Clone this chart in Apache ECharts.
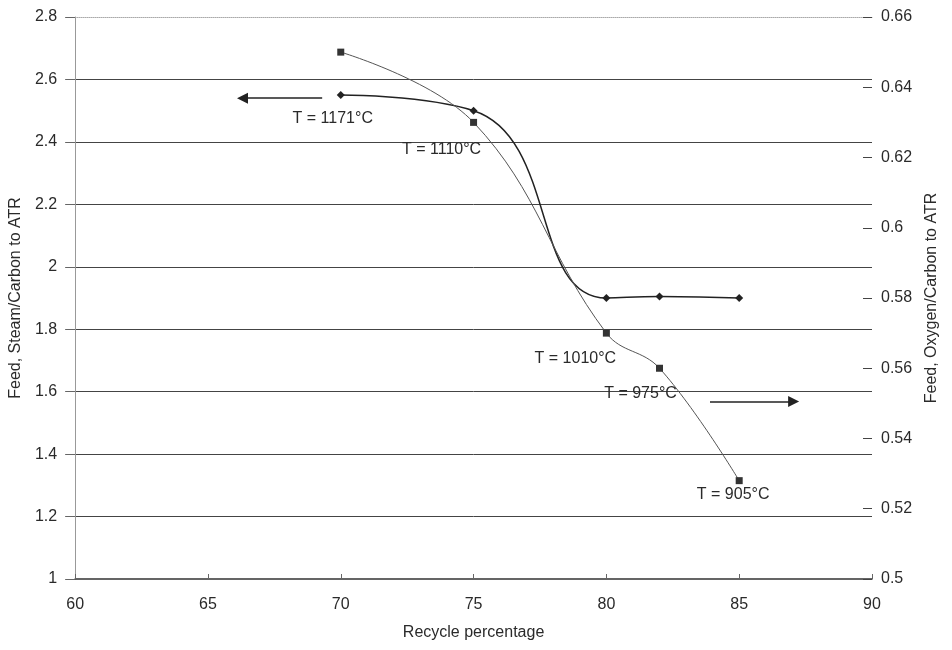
<!DOCTYPE html>
<html>
<head>
<meta charset="utf-8">
<script src="https://cdn.jsdelivr.net/npm/echarts@6/dist/echarts.min.js"></script>
<style>
  html, body { margin: 0; background: #fff; }
  #chart { width: 952px; height: 650px; }
</style>
</head>
<body>
<div id="chart"></div>
<script>
// --- data ---
const recycle = [70, 75, 80, 82, 85];
const steamCarbon = [2.55, 2.50, 1.90, 1.905, 1.90];       // left axis, diamonds
const oxygenCarbon = [0.65, 0.63, 0.57, 0.56, 0.528];      // right axis, squares
const tempLabels = ['T = 1171°C', 'T = 1110°C', 'T = 1010°C', 'T = 975°C', 'T = 905°C'];

// arrows telling which axis each curve belongs to (data units)
const leftArrow = { from: [69.3, 2.54], to: [66.3, 2.54] };
const rightArrow = { from: [83.9, 0.5505], to: [87.05, 0.5505] };

// label offsets from the square markers, in pixels
const labelOffsets = [[-8, 66], [-32, 27], [-31, 25], [-19, 25], [-6, 14]];

const font = 'Liberation Sans, Arial, sans-serif';
const textColor = '#2a2a2a';

const chart = echarts.init(document.getElementById('chart'));

const squareData = recycle.map((x, i) => ({
  value: [x, oxygenCarbon[i]],
  label: {
    show: true,
    formatter: tempLabels[i],
    position: 'inside',
    offset: labelOffsets[i],
    align: 'center',
    verticalAlign: 'middle',
    fontFamily: font,
    fontSize: 16,
    color: textColor
  }
}));

const arrowLine = (arrow) => ({
  silent: true,
  symbol: ['none', 'triangle'],
  symbolSize: 11,
  label: { show: false },
  itemStyle: { color: '#222' },
  lineStyle: { color: '#222', width: 1.5, type: 'solid' },
  data: [[{ coord: arrow.from }, { coord: arrow.to }]]
});

chart.setOption({
  animation: false,
  backgroundColor: '#fff',
  textStyle: { fontFamily: font },
  grid: { left: 73, right: 80, top: 17, bottom: 71 },
  xAxis: [
    {
      type: 'value',
      min: 60, max: 90, interval: 5,
      name: 'Recycle percentage',
      nameLocation: 'middle',
      nameGap: 46,
      nameTextStyle: { fontSize: 16, color: textColor, fontFamily: font },
      axisLine: { lineStyle: { color: '#333', width: 1.5 } },
      axisTick: { inside: true, length: 5, lineStyle: { color: '#666' } },
      axisLabel: { margin: 18, fontSize: 16, color: textColor, fontFamily: font },
      splitLine: { show: false }
    },
    {
      // dotted frame line along the top
      type: 'value', position: 'top',
      min: 60, max: 90,
      axisLine: { show: true, lineStyle: { color: '#aaa', type: 'dotted', width: 1 } },
      axisTick: { show: false },
      axisLabel: { show: false },
      splitLine: { show: false }
    }
  ],
  yAxis: [
    {
      type: 'value',
      min: 1, max: 2.8, interval: 0.2,
      name: 'Feed, Steam/Carbon to ATR',
      nameLocation: 'middle',
      nameRotate: 90,
      nameGap: 48,
      nameTextStyle: { fontSize: 16, color: textColor, fontFamily: font },
      axisLine: { show: true, lineStyle: { color: '#999', width: 1 } },
      axisTick: { show: true, length: 10, lineStyle: { color: '#666' } },
      axisLabel: { margin: 18, fontSize: 16, color: textColor, fontFamily: font },
      splitLine: {
        show: true, showMinLine: false, showMaxLine: false,
        lineStyle: { color: '#444', width: 1 }
      }
    },
    {
      type: 'value',
      position: 'right',
      min: 0.5, max: 0.66, interval: 0.02,
      name: 'Feed, Oxygen/Carbon to ATR',
      nameLocation: 'middle',
      nameRotate: 90,
      nameGap: 52,
      nameTextStyle: { fontSize: 16, color: textColor, fontFamily: font },
      axisLine: { show: false },
      axisTick: { show: true, inside: true, length: 9, lineStyle: { color: '#444' } },
      axisLabel: { margin: 9, fontSize: 16, color: textColor, fontFamily: font },
      splitLine: { show: false }
    }
  ],
  series: [
    {
      name: 'Steam/Carbon',
      type: 'line',
      yAxisIndex: 0,
      smooth: 0.5,
      symbol: 'diamond',
      symbolSize: 8,
      itemStyle: { color: '#222' },
      lineStyle: { color: '#222', width: 1.5 },
      data: recycle.map((x, i) => [x, steamCarbon[i]]),
      markLine: arrowLine(leftArrow)
    },
    {
      name: 'Oxygen/Carbon',
      type: 'line',
      yAxisIndex: 1,
      smooth: 0.4,
      symbol: 'rect',
      symbolSize: 7,
      itemStyle: { color: '#333' },
      lineStyle: { color: '#555', width: 1 },
      data: squareData,
      markLine: arrowLine(rightArrow)
    }
  ]
});
</script>
</body>
</html>
